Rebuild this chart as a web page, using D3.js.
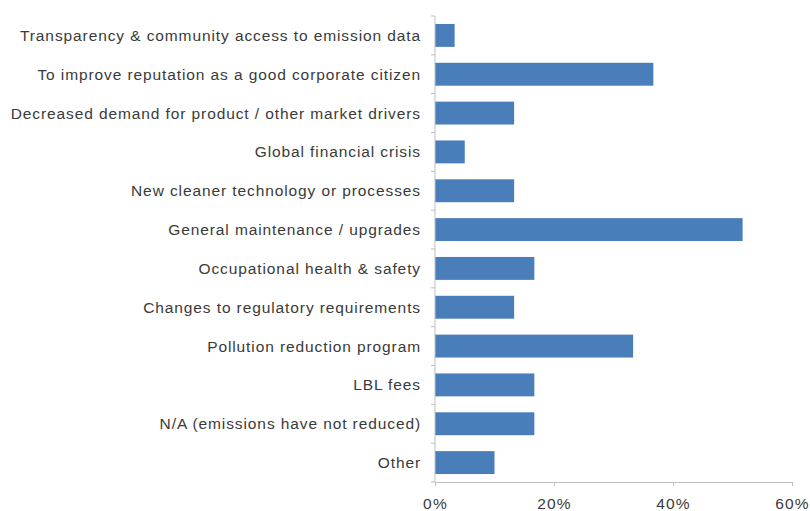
<!DOCTYPE html>
<html>
<head>
<style>
  body { margin: 0; background: #fff; font-family: Arial, "Liberation Sans", sans-serif; }
  .lbl { font-size: 15.5px; fill: #3a3a3a; letter-spacing: 0.9px; }
  .tick-lbl { font-size: 15.5px; fill: #3a3a3a; letter-spacing: 1.2px; }
</style>
</head>
<body>
<div id="chart"></div>
<script src="https://d3js.org/d3.v7.min.js"></script>
<script>
const categories = [
  "Transparency & community access to emission data",
  "To improve reputation as a good corporate citizen",
  "Decreased demand for product / other market drivers",
  "Global financial crisis",
  "New cleaner technology or processes",
  "General maintenance / upgrades",
  "Occupational health & safety",
  "Changes to regulatory requirements",
  "Pollution reduction program",
  "LBL fees",
  "N/A (emissions have not reduced)",
  "Other"
];
const values = [3.3, 36.7, 13.3, 5.0, 13.3, 51.7, 16.7, 13.3, 33.3, 16.7, 16.7, 10.0];
const tickValues = [0, 20, 40, 60];
const tickLabels = ["0%", "20%", "40%", "60%"];

const width = 810, height = 511;
const margin = { top: 16, right: 18, bottom: 29, left: 435 };

const svg = d3.select("#chart").append("svg")
  .attr("width", width)
  .attr("height", height);

const x = d3.scaleLinear()
  .domain([0, 60])
  .range([margin.left, width - margin.right]);

const y = d3.scaleBand()
  .domain(categories)
  .range([margin.top, height - margin.bottom])
  .paddingInner(0.41)
  .paddingOuter(0.205);

// bars
svg.selectAll(".bar")
  .data(values)
  .enter()
  .append("rect")
  .attr("class", "bar")
  .attr("x", x(0))
  .attr("y", (d, i) => y(categories[i]))
  .attr("width", d => x(d) - x(0))
  .attr("height", y.bandwidth())
  .attr("fill", "#4a7ebb");

// category axis
const yAxis = svg.append("g")
  .attr("transform", `translate(${x(0)},0)`);
yAxis.append("line")
  .attr("y1", margin.top).attr("y2", height - margin.bottom)
  .attr("stroke", "#bfbfbf");
const bounds = d3.range(categories.length + 1).map(i => margin.top + i * y.step());
yAxis.selectAll(".yt")
  .data(bounds)
  .enter()
  .append("line")
  .attr("x1", -4).attr("x2", 0)
  .attr("y1", d => d).attr("y2", d => d)
  .attr("stroke", "#bfbfbf");

svg.selectAll(".lbl")
  .data(categories)
  .enter()
  .append("text")
  .attr("class", "lbl")
  .attr("x", margin.left - 14)
  .attr("y", d => y(d) + y.bandwidth() / 2)
  .attr("dy", "0.35em")
  .attr("text-anchor", "end")
  .text(d => d);

// value axis
const xAxis = svg.append("g")
  .attr("transform", `translate(0,${height - margin.bottom})`)
  .call(d3.axisBottom(x)
    .tickValues(tickValues)
    .tickFormat((d, i) => tickLabels[i])
    .tickSize(4)
    .tickPadding(12));
xAxis.select(".domain").attr("stroke", "#bfbfbf");
xAxis.selectAll(".tick line").attr("stroke", "#bfbfbf");
xAxis.selectAll(".tick text")
  .attr("class", "tick-lbl")
  .attr("font-family", null)
  .attr("font-size", null);
</script>
</body>
</html>
